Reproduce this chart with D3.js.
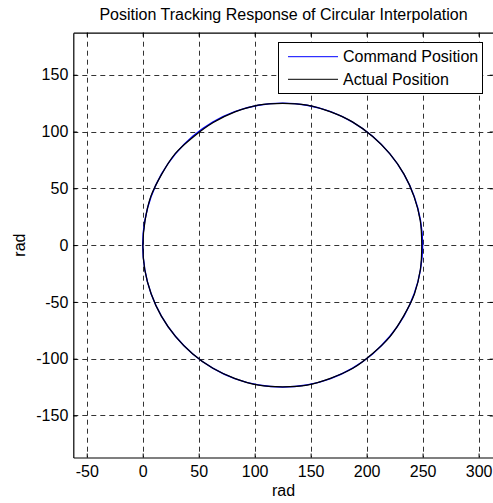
<!DOCTYPE html>
<html>
<head><meta charset="utf-8"></head>
<body style="margin: 0; background: #fff">
  <script src="https://d3js.org/d3.v7.min.js"></script>

  <script>
    const TITLE = "Position Tracking Response of Circular Interpolation";
    const xTicks = [-50, 0, 50, 100, 150, 200, 250, 300];
    const yTicks = [-150, -100, -50, 0, 50, 100, 150];

    // command position, read every 10 degrees round the circle
    const cmdX = [250, 248.1, 242.5, 233.3, 220.8, 205.3, 187.5, 167.8, 146.7, 125,
      103.3, 82.2, 62.5, 44.7, 29.2, 16.7, 7.5, 1.9, 0, 1.9, 7.5, 16.7, 29.2, 44.7,
      62.5, 82.2, 103.3, 125, 146.7, 167.8, 187.5, 205.3, 220.8, 233.3, 242.5, 248.1];
    const cmdY = [0, 21.7, 42.8, 62.5, 80.3, 95.8, 108.3, 117.5, 123.1, 125,
      123.1, 117.5, 108.3, 95.8, 80.3, 62.5, 42.8, 21.7, 0, -21.7, -42.8, -62.5, -80.3, -95.8,
      -108.3, -117.5, -123.1, -125, -123.1, -117.5, -108.3, -95.8, -80.3, -62.5, -42.8, -21.7];

    // actual position, a little off the command in places
    const actX = [249.2, 247.9, 242.3, 233.5, 220.6, 205.4, 187.3, 167.9, 146.6, 125.1,
      103.1, 82.4, 63.0, 45.2, 29.0, 16.9, 7.3, 2.1, 0.2, 1.8, 7.6, 16.5, 29.4, 44.5,
      62.7, 82.0, 103.5, 124.8, 146.9, 167.6, 187.7, 205.1, 220.9, 233.1, 242.7, 248.0];
    const actY = [0.2, 21.5, 42.9, 62.3, 80.5, 95.6, 108.5, 117.3, 123.3, 124.8,
      123.3, 117.3, 107.9, 95.2, 80.5, 62.3, 43.0, 21.5, 0.1, -21.6, -43.0, -62.3, -80.5, -95.6,
      -108.5, -117.3, -123.3, -124.8, -123.3, -117.3, -108.5, -95.6, -80.5, -62.3, -43.0, -21.5];

    const start = () => {
      const width = 493;
      const height = 503;
      const left = 73.3, right = 493.7, top = 32.7, bottom = 457.5;
      const font = "'Liberation Sans', Arial, sans-serif";
      const fmt = (d) => {return String(d);};

      const svg = d3.select("body").append("svg")
        .attr("width", width)
        .attr("height", height)
        .style("font-family", font);

      svg.append("rect").attr("width", width).attr("height", height).attr("fill", "#fff");

      const x = d3.scaleLinear().domain([-62, 313.5]).range([left, right]);
      const y = d3.scaleLinear().domain([-187, 187]).range([bottom, top]);

      // grid
      const grid = svg.append("g")
        .attr("stroke", "#333")
        .attr("stroke-width", 1)
        .attr("stroke-dasharray", "5,4");
      grid.selectAll("line.vx").data(xTicks).enter().append("line")
        .attr("x1", (d) => {return Math.round(x(d)) + 0.5;})
        .attr("x2", (d) => {return Math.round(x(d)) + 0.5;})
        .attr("y1", top).attr("y2", bottom);
      grid.selectAll("line.hy").data(yTicks).enter().append("line")
        .attr("y1", (d) => {return Math.round(y(d)) + 0.5;})
        .attr("y2", (d) => {return Math.round(y(d)) + 0.5;})
        .attr("x1", left).attr("x2", right);

      // curves
      const line = d3.line()
        .x((d) => {return x(d[0]);})
        .y((d) => {return y(d[1]);})
        .curve(d3.curveCatmullRomClosed.alpha(0.5));

      const cmd = cmdX.map((v, i) => {return [v, cmdY[i]];});
      const act = actX.map((v, i) => {return [v, actY[i]];});

      svg.append("path").attr("d", line(cmd))
        .attr("fill", "none").attr("stroke", "#0000ff").attr("stroke-width", 1.4);
      svg.append("path").attr("d", line(act))
        .attr("fill", "none").attr("stroke", "#000").attr("stroke-width", 1.2);

      // axes, ticks pointing in
      const xAxis = svg.append("g")
        .attr("transform", `translate(0,${bottom})`)
        .call(d3.axisBottom(x).tickValues(xTicks).tickFormat(fmt).tickSize(-4).tickPadding(8).tickSizeOuter(0));
      const xAxisTop = svg.append("g")
        .attr("transform", `translate(0,${top})`)
        .call(d3.axisTop(x).tickValues(xTicks).tickSize(-4).tickFormat("").tickSizeOuter(0));
      const yAxis = svg.append("g")
        .attr("transform", `translate(${left},0)`)
        .call(d3.axisLeft(y).tickValues(yTicks).tickFormat(fmt).tickSize(-4).tickPadding(5).tickSizeOuter(0));
      const yAxisRight = svg.append("g")
        .attr("transform", `translate(${right},0)`)
        .call(d3.axisRight(y).tickValues(yTicks).tickSize(-4).tickFormat("").tickSizeOuter(0));

      [xAxis, xAxisTop, yAxis, yAxisRight].forEach((g) => {
        g.selectAll("path.domain").attr("stroke", "#000").attr("stroke-width", 1.2);
        g.selectAll(".tick line").attr("stroke", "#000");
        g.selectAll("text")
          .attr("fill", "#000")
          .style("font-size", "16px")
          .style("font-family", font);
      });

      // title and labels
      svg.append("text")
        .attr("x", (left + right) / 2).attr("y", 20)
        .attr("text-anchor", "middle")
        .style("font-size", "16px")
        .text(TITLE);
      svg.append("text")
        .attr("x", (left + right) / 2).attr("y", 496)
        .attr("text-anchor", "middle")
        .style("font-size", "16px")
        .text("rad");
      svg.append("text")
        .attr("transform", `translate(25,${(top + bottom) / 2}) rotate(-90)`)
        .attr("text-anchor", "middle")
        .style("font-size", "16px")
        .text("rad");

      // legend
      const legend = svg.append("g");
      legend.append("rect")
        .attr("x", 278.5).attr("y", 42.5)
        .attr("width", 204).attr("height", 51)
        .attr("fill", "#fff").attr("stroke", "#000");
      const entries = [["Command Position", "#0000ff"], ["Actual Position", "#000"]];
      entries.forEach((e, i) => {
        const cy = 56.7 + i * 22.6;
        legend.append("line")
          .attr("x1", 288).attr("x2", 338)
          .attr("y1", cy).attr("y2", cy)
          .attr("stroke", e[1]);
        legend.append("text")
          .attr("x", 343).attr("y", cy + 5.5)
          .style("font-size", "16px")
          .text(e[0]);
      });
    };

    document.addEventListener("DOMContentLoaded", () => {
      start();
    }, false);
  </script>
</body>
</html>
